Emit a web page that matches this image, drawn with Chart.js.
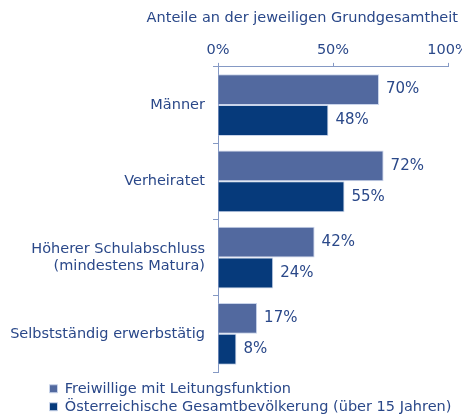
<!DOCTYPE html>
<html>
<head>
<meta charset="utf-8">
<script src="https://cdn.jsdelivr.net/npm/chart.js@4/dist/chart.umd.min.js"></script>
<style>
	html, body { margin: 0; padding: 0; background: #ffffff; }
	#wrap { width: 462px; height: 418px; }
</style>
</head>
<body>
<div id="wrap"><canvas id="newChart"></canvas></div>
<script>
var categories = ["Männer", "Verheiratet", ["Höherer Schulabschluss", "(mindestens Matura)"], "Selbstständig erwerbstätig"];
var leitung = [70, 72, 42, 17];
var bevoelkerung = [48, 55, 24, 8];
var seriesNames = ["Freiwillige mit Leitungsfunktion", "Österreichische Gesamtbevölkerung (über 15 Jahren)"];
var xTicks = [0, 50, 100];

var textColor = '#2a4889';
var axisColor = '#8599c4';
var fontFamily = '"DejaVu Sans", Verdana, sans-serif';

// draws the value next to each bar
var valueLabels = {
	id: 'valueLabels',
	afterDatasetsDraw: function(chart) {
		var ctx = chart.ctx;
		ctx.save();
		ctx.font = '15px ' + fontFamily;
		ctx.fillStyle = textColor;
		ctx.textBaseline = 'middle';
		ctx.textAlign = 'left';
		chart.data.datasets.forEach(function(ds, i) {
			chart.getDatasetMeta(i).data.forEach(function(bar, j) {
				ctx.fillText(ds.data[j] + '%', bar.x + 7, bar.y);
			});
		});
		ctx.restore();
	}
};

// legend and title sit a bit off from where chart.js puts them
var boxShift = {
	id: 'boxShift',
	afterLayout: function(chart) {
		var lg = chart.legend;
		lg.left += 36;
		lg.right += 36;
		lg.top += 6;
		lg.bottom += 6;
		var tb = chart.titleBlock;
		tb.left += 10;
		tb.right += 10;
	}
};

function displayChart(chartId) {
	var chart = new Chart(document.getElementById(chartId).getContext('2d'), {
		type: 'bar',
		data: {
			labels: categories,
			datasets: [{
				label: seriesNames[0],
				data: leitung,
				backgroundColor: '#52699f',
				borderColor: '#c9d4ea',
				borderWidth: 1
			}, {
				label: seriesNames[1],
				data: bevoelkerung,
				backgroundColor: '#063a7b',
				borderColor: '#c9d4ea',
				borderWidth: 1
			}]
		},
		plugins: [valueLabels, boxShift],
		options: {
			indexAxis: 'y',
			responsive: true,
			maintainAspectRatio: false,
			animation: false,
			datasets: {
				bar: { barPercentage: 1, categoryPercentage: 0.81 }
			},
			layout: {
				padding: { left: 10, right: 14, top: 0, bottom: 0 }
			},
			scales: {
				x: {
					position: 'top',
					min: 0,
					max: 100,
					afterBuildTicks: function(scale) {
						scale.ticks = xTicks.map(function(v) { return { value: v }; });
					},
					afterFit: function(scale) {
						scale.height = 25;
						scale.paddingLeft = 0;
						scale.paddingRight = 0;
					},
					ticks: {
						color: textColor,
						font: { family: fontFamily, size: 14.5 },
						padding: 4,
						callback: function(v) { return v + '%'; }
					},
					grid: {
						drawOnChartArea: false,
						tickLength: 4,
						color: axisColor
					},
					border: { color: axisColor }
				},
				y: {
					afterFit: function(scale) { scale.width = 208; },
					ticks: {
						color: textColor,
						font: { family: fontFamily, size: 14.5 },
						padding: 8
					},
					grid: {
						offset: true,
						drawOnChartArea: false,
						tickLength: 5,
						color: axisColor
					},
					border: { color: axisColor }
				}
			},
			plugins: {
				title: {
					display: true,
					text: 'Anteile an der jeweiligen Grundgesamtheit',
					align: 'end',
					color: textColor,
					font: { family: fontFamily, size: 14.5, weight: 'normal' },
					padding: { top: 10, bottom: 14.5 }
				},
				legend: {
					position: 'bottom',
					align: 'start',
					maxHeight: 50,
					labels: {
						color: textColor,
						font: { family: fontFamily, size: 14.5 },
						boxWidth: 8,
						boxHeight: 8,
						padding: 3.5
					}
				},
				tooltip: { enabled: false }
			}
		}
	});
	return chart;
}

displayChart('newChart');
</script>
</body>
</html>
